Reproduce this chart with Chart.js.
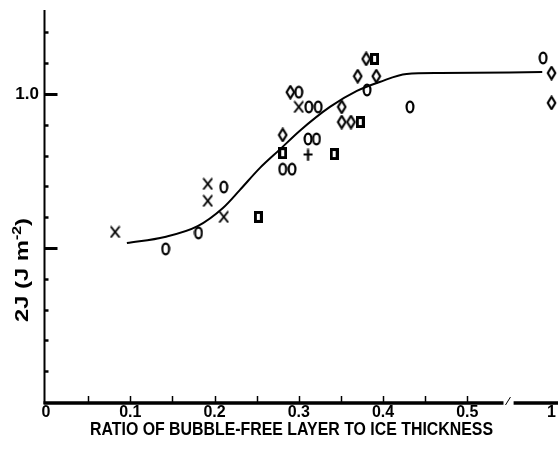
<!DOCTYPE html>
<html><head><meta charset="utf-8">
<script src="https://cdn.jsdelivr.net/npm/chart.js@4"></script>
<style>html,body{margin:0;padding:0;background:#fff}canvas{display:block}</style>
</head><body>
<canvas id="c" width="558" height="456"></canvas>
<script>
// ---------------- data ----------------
const xLabelValues = [0, 0.1, 0.2, 0.3, 0.4, 0.5, 1];
const xLabelTexts  = ['0', '0.1', '0.2', '0.3', '0.4', '0.5', '1'];
const xMinorTicks  = [0.05, 0.1, 0.15, 0.2, 0.25, 0.3, 0.35, 0.4, 0.45, 0.5];
const yTickValues  = [0.1, 0.2, 0.3, 0.4, 0.5, 0.6, 0.7, 0.8, 0.9, 1.0, 1.1, 1.2];
const yMajorTicks  = [0.5, 1.0];
const yLabelValues = [1.0];
const yLabelTexts  = ['1.0'];

const curveX = [0.096, 0.141, 0.180, 0.210, 0.230, 0.254, 0.278, 0.301, 0.337, 0.369, 0.396, 0.428, 0.468, 0.989];
const curveY = [0.516, 0.536, 0.571, 0.630, 0.688, 0.760, 0.821, 0.880, 0.958, 1.010, 1.039, 1.065, 1.068, 1.071];

const crossX   = [0.082, 0.192, 0.192, 0.211, 0.300];
const crossY   = [0.552, 0.708, 0.653, 0.601, 0.958];
const ovalX    = [0.142, 0.181, 0.211, 0.281, 0.292, 0.300, 0.312, 0.323, 0.311, 0.321, 0.381, 0.432, 0.990];
const ovalY    = [0.497, 0.549, 0.698, 0.756, 0.756, 1.006, 0.958, 0.958, 0.854, 0.854, 1.013, 0.958, 1.117];
const diamondX = [0.281, 0.290, 0.351, 0.351, 0.362, 0.370, 0.392, 0.380, 1.0, 1.0];
const diamondY = [0.867, 1.006, 0.958, 0.909, 0.909, 1.058, 1.058, 1.114, 1.068, 0.971];
const squareX  = [0.252, 0.281, 0.342, 0.373, 0.390];
const squareY  = [0.601, 0.808, 0.805, 0.909, 1.114];
const plusX    = [0.311];
const plusY    = [0.802];

const xTitle = 'RATIO OF BUBBLE-FREE LAYER TO ICE THICKNESS';

// ---------------- broken x scale ----------------
const BREAK_FROM = 0.56, BREAK_SHIFT = 0.4;   // values above 0.56 are drawn 0.4 to the left
const GAP_START = 0.543, GAP_END = 0.555;      // where the axis line is interrupted
const X_MAX = 1.0077, Y_MAX = 1.2727;

class BrokenLinearScale extends Chart.LinearScale {
  vis(v) { return v > BREAK_FROM ? v - BREAK_SHIFT : v; }
  getPixelForValue(v) {
    if (v === null || v === undefined || isNaN(v)) return NaN;
    const a = this.vis(this.min), b = this.vis(this.max);
    return this.getPixelForDecimal((this.vis(v) - a) / (b - a));
  }
  getValueForPixel(p) {
    const a = this.vis(this.min), b = this.vis(this.max);
    const d = a + this.getDecimalForPixel(p) * (b - a);
    return d > BREAK_FROM ? d + BREAK_SHIFT : d;
  }
}
BrokenLinearScale.id = 'brokenLinear';
BrokenLinearScale.defaults = Chart.LinearScale.defaults;
Chart.register(BrokenLinearScale);

// ---------------- markers ----------------
function marker(w, h, draw) {
  const c = document.createElement('canvas'); c.width = w; c.height = h;
  const g = c.getContext('2d'); g.strokeStyle = '#000'; g.fillStyle = '#000';
  g.lineWidth = 2; g.lineCap = 'round'; g.lineJoin = 'round'; draw(g); return c;
}
const mOval = marker(10, 14, g => { g.lineWidth = 2.2; g.beginPath(); g.ellipse(5, 7, 3.4, 5.4, 0, 0, 2 * Math.PI); g.stroke(); });
const mDiamond = marker(11, 15, g => { g.lineWidth = 2.2; g.beginPath(); g.moveTo(5.5, 1.3); g.lineTo(9.3, 7.5); g.lineTo(5.5, 13.7); g.lineTo(1.7, 7.5); g.closePath(); g.stroke(); });
const mCross = marker(11, 13, g => { g.lineWidth = 2; g.beginPath(); g.moveTo(1.5, 1.5); g.lineTo(9.5, 11.5); g.moveTo(9.5, 1.5); g.lineTo(1.5, 11.5); g.stroke(); });
const mSquare = marker(9, 12, g => { g.lineWidth = 3; g.lineJoin = 'miter'; g.strokeRect(1.5, 1.5, 6, 9); });
const mPlus = marker(11, 13, g => { g.lineWidth = 2.2; g.lineCap = 'butt'; g.beginPath(); g.moveTo(5.5, 0.5); g.lineTo(5.5, 12.5); g.moveTo(1, 6); g.lineTo(10, 6); g.stroke(); });

const pts = (xs, ys) => xs.map((x, i) => ({x, y: ys[i]}));
const FONT = '"Liberation Sans", Arial, sans-serif';

// ---------------- decorations ----------------
const deco = {
  id: 'deco',
  beforeDraw(chart) {
    const c = chart.ctx; c.save(); c.fillStyle = '#fff'; c.fillRect(0, 0, chart.width, chart.height); c.restore();
  },
  afterDraw(chart) {
    const c = chart.ctx, a = chart.chartArea, x = chart.scales.x, y = chart.scales.y;
    c.save(); c.strokeStyle = '#000'; c.fillStyle = '#000'; c.lineCap = 'butt';
    // y axis line
    const yx = a.left - 1.5;
    c.lineWidth = 2; c.beginPath(); c.moveTo(yx, a.top); c.lineTo(yx, a.bottom + 2); c.stroke();
    // y ticks (inward)
    yTickValues.forEach(v => {
      const py = Math.round(y.getPixelForValue(v)) + 0.5;
      const major = yMajorTicks.some(m => Math.abs(m - v) < 1e-9);
      c.lineWidth = major ? 3 : 2.5;
      c.beginPath(); c.moveTo(yx, py); c.lineTo(yx + (major ? 13 : 4), py); c.stroke();
    });
    // x axis with break
    const yb = a.bottom + 1;
    const g0 = x.getPixelForValue(GAP_START), g1 = x.getPixelForValue(GAP_END);
    c.lineWidth = 3.5;
    c.beginPath(); c.moveTo(yx - 1, yb); c.lineTo(g0, yb); c.moveTo(g1, yb); c.lineTo(a.right, yb); c.stroke();
    c.lineWidth = 1; c.beginPath(); c.moveTo(g0 + 2, yb + 2); c.lineTo(g0 + 7, yb - 6); c.stroke();
    // x ticks (inward)
    c.lineWidth = 1.5;
    xMinorTicks.forEach(v => {
      const px = Math.round(x.getPixelForValue(v)) + 0.5;
      c.beginPath(); c.moveTo(px, a.bottom); c.lineTo(px, a.bottom - 6); c.stroke();
    });
    // x tick labels
    c.font = 'bold 16px ' + FONT; c.textAlign = 'center'; c.textBaseline = 'alphabetic';
    xLabelValues.forEach((v, i) => {
      c.fillText(xLabelTexts[i], x.getPixelForValue(v), a.bottom + 15);
    });
    // x title
    c.font = 'bold 18px ' + FONT;
    const w = c.measureText(xTitle).width;
    c.save(); c.translate(291.5, 435); c.scale(403 / w, 1); c.fillText(xTitle, 0, 0); c.restore();
    // y title (rotated) 2J (J m^-2)
    const parts = [['2J (J m', 18, 0], ['-2', 12, -7], [')', 18, 0]];
    let tot = 0;
    parts.forEach(p => { c.font = 'bold ' + p[1] + 'px ' + FONT; p.push(c.measureText(p[0]).width); tot += p[3]; });
    c.save(); c.translate(28, 270); c.rotate(-Math.PI / 2); c.scale(104 / tot, 1);
    c.textAlign = 'left';
    let cx = -tot / 2;
    parts.forEach(p => { c.font = 'bold ' + p[1] + 'px ' + FONT; c.fillText(p[0], cx, p[2]); cx += p[3]; });
    c.restore();
    c.restore();
  }
};

new Chart(document.getElementById('c'), {
  type: 'scatter',
  data: {datasets: [
    {data: pts(curveX, curveY), showLine: true, borderColor: '#000', borderWidth: 2, pointRadius: 0, cubicInterpolationMode: 'monotone', fill: false},
    {data: pts(crossX, crossY), pointStyle: mCross, pointRadius: 5},
    {data: pts(ovalX, ovalY), pointStyle: mOval, pointRadius: 5},
    {data: pts(diamondX, diamondY), pointStyle: mDiamond, pointRadius: 5},
    {data: pts(squareX, squareY), pointStyle: mSquare, pointRadius: 5},
    {data: pts(plusX, plusY), pointStyle: mPlus, pointRadius: 5}
  ]},
  options: {
    responsive: false, animation: false, events: [], devicePixelRatio: 1,
    layout: {autoPadding: false, padding: {top: 10, right: 0, left: 0, bottom: 0}},
    plugins: {legend: {display: false}, tooltip: {enabled: false}},
    scales: {
      x: {
        type: 'brokenLinear', position: 'bottom', min: 0, max: X_MAX,
        grid: {display: false, drawTicks: false}, border: {display: false},
        afterBuildTicks(s) { s.ticks = xLabelValues.map(v => ({value: v})); },
        ticks: {display: false},
        afterFit(s) { s.height = 54; s.paddingLeft = 0; s.paddingRight = 0; }
      },
      y: {
        type: 'linear', min: 0, max: Y_MAX,
        grid: {display: false, drawTicks: false}, border: {display: false},
        afterBuildTicks(s) { s.ticks = yLabelValues.map(v => ({value: v})); },
        ticks: {padding: 7, color: '#000', font: {family: FONT, size: 17, weight: 'bold'},
                callback: (v, i) => yLabelTexts[i]},
        afterFit(s) { s.width = 46; s.paddingTop = 0; s.paddingBottom = 0; }
      }
    }
  },
  plugins: [deco]
});
</script>
</body></html>
